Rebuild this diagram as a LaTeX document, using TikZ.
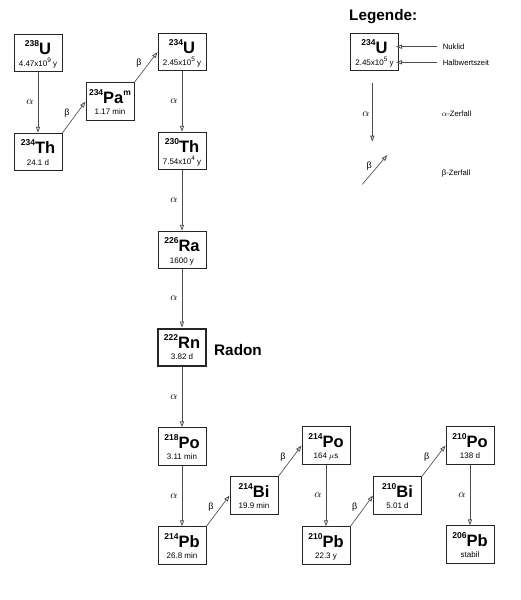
\documentclass[tikz,border=0pt]{standalone}
\usepackage{fontspec}
\setmainfont{Liberation Sans}
\usetikzlibrary{arrows.meta}
\tikzset{
  nbox/.style={draw=black!85, line width=0.9pt, minimum width=48pt, minimum height=37.5pt, inner sep=0pt},
  rnbox/.style={nbox, line width=2.4pt},
  dec/.style={draw=black!70, line width=0.65pt, -{Triangle[open,length=6pt,width=4.2pt,line width=0.8pt]}},
  lab/.style={font=\fontsize{10.5}{10.5}\selectfont, inner sep=0pt},
  blab/.style={font=\fontsize{9}{9}\selectfont, inner sep=0pt},
  txt/.style={inner sep=0pt, font=\fontsize{7.7}{8}\selectfont},
  big/.style={inner sep=0pt, font=\fontsize{15.3}{16}\selectfont\bfseries},
}
\newcommand\massno[1]{\raisebox{8pt}{\fontsize{8.5}{8.5}\selectfont\bfseries #1}}
\newcommand\hlexp[1]{\raisebox{3.3pt}{\fontsize{6.5}{6.5}\selectfont #1}}
\newcommand\nuc[7]{% style, name, x, y, mass, symbol, half-life
  \node[#1] (#2) at (#3,#4) {};
  \node[anchor=base, inner sep=0pt] (#2s) at ([yshift=-21pt]#2.north)
     {\massno{#5}{\fontsize{16.5}{16.5}\selectfont\bfseries #6}};
  \node[anchor=base, inner sep=0pt, font=\fontsize{8}{8}\selectfont] (#2h) at ([yshift=-32.3pt]#2.north) {#7};
}
\newcommand\adecay[3]{\draw[dec] (#1) -- node[lab, xshift=-8pt] (#3) {$\alpha$} (#2);}
\newcommand\bdecay[3]{\draw[dec] (#1.north east) -- node[blab, xshift=-7pt, yshift=4pt] (#3) {β} (#2.west);}
\begin{document}
\begin{tikzpicture}[x=1pt, y=-1pt]
\useasboundingbox (0,0) rectangle (520,600);

% chain
\nuc{nbox}{uA}{38}{53}{238}{U}{4.47x10\hlexp{9} y}
\nuc{nbox}{thA}{38}{152}{234}{Th}{24.1 d}
\nuc{nbox}{pa}{110}{101.5}{234}{Pa\massno{m}}{1.17 min}
\nuc{nbox}{uB}{182}{52}{234}{U}{2.45x10\hlexp{5} y}
\nuc{nbox}{thB}{182}{151}{230}{Th}{7.54x10\hlexp{4} y}
\nuc{nbox}{ra}{182}{250}{226}{Ra}{1600 y}
\nuc{rnbox}{rn}{182}{347.5}{222}{Rn}{3.82 d}
\nuc{nbox}{poA}{182}{446.5}{218}{Po}{3.11 min}
\nuc{nbox}{pbA}{182}{545.5}{214}{Pb}{26.8 min}
\nuc{nbox}{biA}{254}{495.5}{214}{Bi}{19.9 min}
\nuc{nbox}{poB}{326}{445.5}{214}{Po}{164 $\mu$s}
\nuc{nbox}{pbB}{326}{545.5}{210}{Pb}{22.3 y}
\nuc{nbox}{biB}{397.5}{495.5}{210}{Bi}{5.01 d}
\nuc{nbox}{poC}{470}{445.5}{210}{Po}{138 d}
\nuc{nbox}{pbC}{470}{544.5}{206}{Pb}{stabil}

\node[big, anchor=base west] (radon) at (214,355) {Radon};

\adecay{uA}{thA}{l1}
\bdecay{thA}{pa}{l2}
\bdecay{pa}{uB}{l3}
\adecay{uB}{thB}{l4}
\adecay{thB}{ra}{l5}
\adecay{ra}{rn}{l6}
\adecay{rn}{poA}{l7}
\adecay{poA}{pbA}{l8}
\bdecay{pbA}{biA}{l9}
\bdecay{biA}{poB}{l10}
\adecay{poB}{pbB}{l11}
\bdecay{pbB}{biB}{l12}
\bdecay{biB}{poC}{l13}
\adecay{poC}{pbC}{l14}

% legend
\node[big, anchor=base west] (legtitle) at (349,20) {Legende:};
\nuc{nbox}{leg}{374.5}{52}{234}{U}{2.45x10\hlexp{5} y}
\node[txt, anchor=west] (nuklid) at (442.7,46.7) {Nuklid};
\node[txt, anchor=west] (hwz) at (442.7,62.3) {Halbwertszeit};
\coordinate (nukpt) at (396,46.7);
\coordinate (hwzpt) at (396,62.3);
\draw[dec] ([xshift=-5.5pt]nuklid.west) -- (nukpt);
\draw[dec] ([xshift=-5.5pt]hwz.west) -- (hwzpt);

\coordinate (la1) at (372.3,83.3);
\coordinate (la2) at (372.3,141.7);
\draw[dec] (la1) -- (la2);
\node[lab] (lalpha) at (366,114.3) {$\alpha$};
\node[txt, anchor=west] (azerf) at (441.7,114) {$\alpha$-Zerfall};

\coordinate (lb1) at (362.3,184.3);
\coordinate (lb2) at (387.3,155);
\draw[dec] (lb1) -- (lb2);
\node[blab] (lbeta) at (369.3,165.7) {β};
\node[txt, anchor=west] (bzerf) at (441.7,173.3) {β-Zerfall};
\end{tikzpicture}
\end{document}
